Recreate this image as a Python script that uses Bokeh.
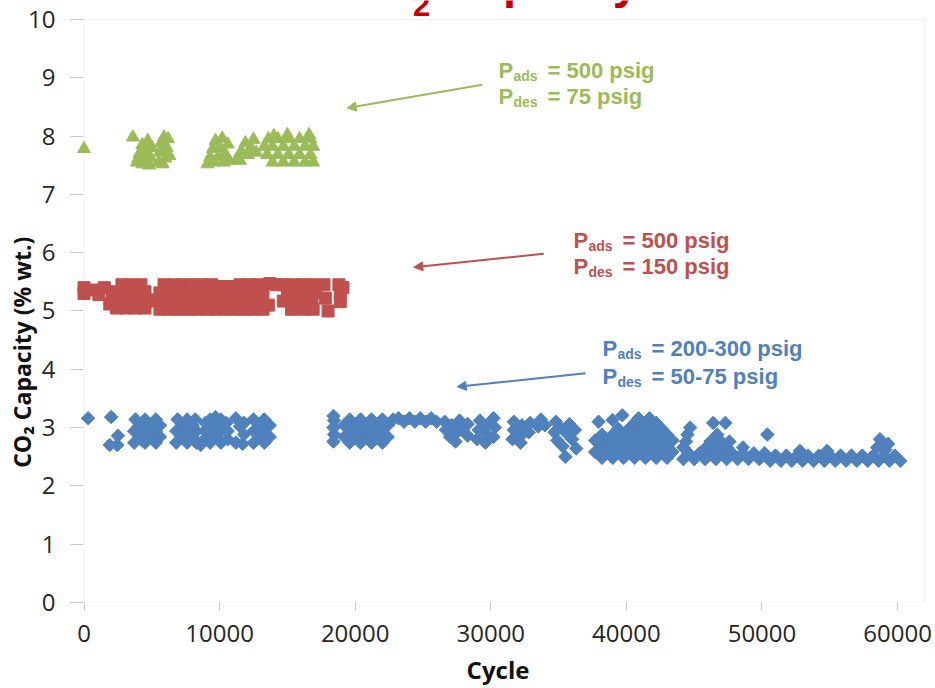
import numpy as np
from bokeh.plotting import figure
from bokeh.models import (ColumnDataSource, Range1d, FixedTicker, Label, Arrow, NormalHead,
                          BoxAnnotation)
from bokeh.embed import file_html
from bokeh.resources import INLINE

# ---------------- data ----------------
x_ticks = [0, 10000, 20000, 30000, 40000, 50000, 60000]
y_ticks = [0, 1, 2, 3, 4, 5, 6, 7, 8, 9, 10]

# Pads = 200-300 psig, Pdes = 50-75 psig (blue diamonds)
blue_x = [300, 2000, 1900, 2450, 2500,
          3700, 4500, 5300, 4100, 4900, 5600, 3700, 4500, 5300, 4100, 4900, 5600,
          3800, 4500, 5300, 4300, 5000,
          6800, 7600, 8300, 7200, 8000, 6800, 7600, 8300, 7200, 8000, 6900, 7600, 8200, 8600,
          9300, 10100, 8900, 10600, 9700, 8900, 9300, 10100, 10600, 9700, 8950, 10500,
          9300, 10100, 9700,
          11200, 11500, 11200, 11700, 11800, 11800,
          12500, 13300, 12900, 13700, 12500, 13300, 12900, 13700, 12500, 13300,
          18400, 18450, 18400, 18450, 18400,
          19600, 20400, 21200, 22000,
          19200, 20000, 20800, 21600, 22400,
          19600, 20400, 21200, 22000,
          19200, 20000, 20800, 21600, 22400,
          19600, 20400, 21200, 22000, 22800,
          23600, 24400, 25200, 26000, 23200, 24000, 24800, 25600,
          26600, 26700, 27000, 27100, 27400, 27500, 27700, 27900, 28300, 28300,
          29000, 29100, 29200, 29600, 29700, 29700, 30200, 30300, 30200,
          31600, 31700, 31700, 32200, 32300, 32300, 32800, 32900,
          33500, 33700, 34000,
          34700, 34800, 34900, 35100, 35300, 35500, 35600, 35800, 36000, 36200, 36300,
          37950, 38980, 39700,
          38200, 39000, 39800, 40600, 41400, 42200, 43000,
          37700, 38600, 39400, 40200, 41000, 41800, 42600, 43400,
          38200, 39000, 39800, 40600, 41400, 42200, 43000,
          37700, 38600, 39400, 40200, 41000, 41800, 42600, 43400,
          38200, 39000, 39800, 40600, 41400, 42200, 43000,
          39400, 40200, 41000, 41800, 42600,
          40600, 41400, 42200, 40900, 41700,
          44200, 45000, 45800, 46600, 47400, 48200, 49000, 49800,
          44600, 45400, 46200, 47000, 47800, 48600, 49400, 50200,
          44200, 45900, 46600, 47400, 48600,
          44400, 46200, 47000, 47600,
          44500, 46700, 44700, 46400, 47300, 50400,
          50600, 51400, 52200, 53000, 53800, 54600, 55400, 56200, 57000, 57800, 58600, 59400, 60200,
          51000, 51800, 52600, 53400, 54200, 55000, 55800, 56600, 57400, 58200, 59000, 59800,
          52800, 54800, 58500, 58700, 59300, 59100]
blue_y = [3.16, 3.18, 2.70, 2.70, 2.86,
          2.74, 2.74, 2.74, 2.84, 2.84, 2.84, 2.94, 2.94, 2.94, 3.04, 3.04, 3.04,
          3.14, 3.14, 3.14, 2.78, 3.00,
          2.74, 2.74, 2.74, 2.84, 2.84, 2.94, 2.94, 2.94, 3.04, 3.04, 3.14, 3.14, 3.14, 2.70,
          2.74, 2.74, 2.80, 2.80, 2.84, 2.94, 2.94, 2.94, 2.94, 3.04, 3.08, 3.08,
          3.14, 3.14, 3.18,
          3.16, 3.02, 2.74, 2.72, 2.88, 3.08,
          2.74, 2.74, 2.84, 2.84, 2.94, 2.94, 3.04, 3.04, 3.14, 3.14,
          2.76, 2.88, 3.00, 3.12, 3.20,
          2.74, 2.74, 2.74, 2.74,
          2.84, 2.84, 2.84, 2.84, 2.84,
          2.94, 2.94, 2.94, 2.94,
          3.04, 3.04, 3.04, 3.04, 3.04,
          3.14, 3.14, 3.14, 3.14, 3.14,
          3.10, 3.10, 3.10, 3.10, 3.16, 3.16, 3.16, 3.16,
          3.10, 2.96, 2.84, 3.04, 2.76, 2.92, 3.12, 2.98, 3.06, 2.86,
          2.80, 2.96, 3.12, 2.74, 2.88, 3.04, 2.84, 3.00, 3.16,
          2.80, 2.96, 3.10, 2.74, 2.88, 3.04, 2.92, 3.08,
          3.02, 3.14, 3.04,
          2.92, 3.10, 2.78, 3.00, 2.68, 2.50, 2.90, 3.06, 2.80, 2.96, 2.64,
          3.10, 3.13, 3.21,
          2.48, 2.48, 2.48, 2.48, 2.48, 2.48, 2.48,
          2.58, 2.58, 2.58, 2.58, 2.58, 2.58, 2.58, 2.58,
          2.68, 2.68, 2.68, 2.68, 2.68, 2.68, 2.68,
          2.78, 2.78, 2.78, 2.78, 2.78, 2.78, 2.78, 2.78,
          2.88, 2.88, 2.88, 2.88, 2.88, 2.88, 2.88,
          2.98, 2.98, 2.98, 2.98, 2.98,
          3.08, 3.08, 3.08, 3.16, 3.16,
          2.46, 2.46, 2.46, 2.46, 2.46, 2.46, 2.46, 2.46,
          2.56, 2.56, 2.56, 2.56, 2.56, 2.56, 2.56, 2.56,
          2.66, 2.66, 2.66, 2.66, 2.66,
          2.76, 2.76, 2.76, 2.76,
          2.88, 2.88, 3.00, 3.08, 3.08, 2.88,
          2.43, 2.43, 2.43, 2.43, 2.43, 2.43, 2.43, 2.43, 2.43, 2.43, 2.43, 2.43, 2.43,
          2.52, 2.52, 2.52, 2.52, 2.52, 2.52, 2.52, 2.52, 2.52, 2.52, 2.52, 2.52,
          2.60, 2.60, 2.66, 2.80, 2.72, 2.62]

# Pads = 500 psig, Pdes = 150 psig (red squares)
red_x = [0, 0, 600, 1100, 1500, 1900,
         2400, 3100, 3800, 4500,
         2100, 2800, 3500, 4200, 4900,
         2400, 3100, 3800, 4500,
         2800, 3500, 4200,
         5600, 6300, 7000, 7700, 8400, 9100, 9700,
         5300, 5900, 6600, 7300, 8000, 8700, 9400,
         5600, 6300, 7000, 7700, 8400, 9100, 9700,
         5900, 6600, 7300, 8000, 8700, 9400,
         10400, 11100, 11800, 12500, 13200,
         10100, 10800, 11500, 12200, 12900,
         10400, 11100, 11800, 12500, 13200,
         10100, 10800, 11500, 12200, 12900,
         13700, 14200, 13600,
         14700, 15400, 16100, 16800,
         15000, 15700, 16400, 17100,
         14700, 15400, 16100, 16800,
         15300, 16200, 16900,
         17700, 17800, 18000,
         18800, 18900, 18900, 19100]
red_y = [5.40, 5.30, 5.36, 5.28, 5.40, 5.12,
         5.05, 5.05, 5.05, 5.05,
         5.19, 5.19, 5.19, 5.19, 5.19,
         5.33, 5.33, 5.33, 5.33,
         5.45, 5.45, 5.45,
         5.03, 5.03, 5.03, 5.03, 5.03, 5.03, 5.03,
         5.17, 5.17, 5.17, 5.17, 5.17, 5.17, 5.17,
         5.31, 5.31, 5.31, 5.31, 5.31, 5.31, 5.31,
         5.45, 5.45, 5.45, 5.45, 5.45, 5.45,
         5.03, 5.03, 5.03, 5.03, 5.03,
         5.17, 5.17, 5.17, 5.17, 5.17,
         5.31, 5.31, 5.31, 5.31, 5.31,
         5.42, 5.42, 5.45, 5.45, 5.45,
         5.47, 5.45, 5.10,
         5.45, 5.45, 5.45, 5.45,
         5.31, 5.31, 5.31, 5.31,
         5.17, 5.17, 5.17, 5.17,
         5.03, 5.03, 5.03,
         5.45, 5.22, 5.00,
         5.45, 5.30, 5.16, 5.40]

# Pads = 500 psig, Pdes = 75 psig (green triangles)
green_x = [0, 3600,
           3900, 4100, 4300, 4500, 4600, 4700, 4900, 5000, 4300, 4800, 4000,
           5500, 5600, 5700, 5900, 6000, 6100, 6200, 5800, 6300,
           9100, 9300, 9500, 9700, 9900, 10000, 10200, 10400, 10600, 10700, 10300, 9600,
           11300, 11600, 11900, 12100, 12300, 12500, 12700, 11500,
           13900, 14700, 15500, 16300, 16900,
           13500, 14300, 15100, 15900, 16700,
           13300, 13900, 14700, 15500, 16300, 16900,
           13600, 14300, 15100, 15900, 16700,
           14000, 15000, 16600]
green_y = [7.78, 7.98,
           7.55, 7.70, 7.85, 7.58, 7.75, 7.92, 7.62, 7.80, 7.52, 7.50, 7.62,
           7.55, 7.72, 7.88, 7.98, 7.62, 7.80, 7.95, 7.52, 7.66,
           7.52, 7.64, 7.78, 7.92, 7.64, 7.80, 7.96, 7.70, 7.86, 7.58, 7.55, 7.55,
           7.62, 7.74, 7.88, 7.68, 7.80, 7.94, 7.72, 7.58,
           7.55, 7.55, 7.55, 7.55, 7.55,
           7.68, 7.68, 7.68, 7.68, 7.68,
           7.82, 7.82, 7.82, 7.82, 7.82, 7.82,
           7.95, 7.95, 7.95, 7.95, 7.95,
           8.00, 8.02, 8.02]

# annotation arrows (data coordinates: start -> end)
green_arrow = (29370, 8.88, 19410, 8.48)
red_arrow = (33910, 5.98, 24320, 5.75)
blue_arrow = (36990, 3.93, 27520, 3.70)

BLUE = "#4F81BD"
RED = "#C0504D"
GREEN = "#9BBB59"
GRID = "#C8C8C8"

p = figure(width=935, height=688, output_backend="svg", toolbar_location=None,
           x_range=Range1d(-996, 62061), y_range=Range1d(0, 10.325),
           min_border_left=70, min_border_right=10, min_border_top=0, min_border_bottom=85)
p.xgrid.visible = False
p.ygrid.visible = False
p.outline_line_color = None
p.background_fill_color = "white"
p.border_fill_color = "white"

# plot-area border (axis line at x=0, top, right, bottom)
p.add_layout(BoxAnnotation(left=0, right=62000, bottom=0, top=10, fill_color=None,
                           line_color=GRID, line_width=1, level="underlay"))

src_b = ColumnDataSource(dict(x=blue_x, y=blue_y))
src_r = ColumnDataSource(dict(x=red_x, y=red_y))
src_g = ColumnDataSource(dict(x=green_x, y=green_y))

p.scatter("x", "y", source=src_b, marker="square", angle=np.pi / 4, size=9.5,
          fill_color=BLUE, line_color=BLUE)
p.scatter("x", "y", source=src_r, marker="square", size=12,
          fill_color=RED, line_color=RED)
p.scatter("x", "y", source=src_g, marker="triangle", size=13,
          fill_color=GREEN, line_color=GREEN)

# axes
TICK_FONT = "Open Sans"
p.xaxis.ticker = FixedTicker(ticks=x_ticks)
p.yaxis.ticker = FixedTicker(ticks=y_ticks)
for ax in (p.xaxis, p.yaxis):
    ax.minor_tick_line_color = None
    ax.major_tick_line_color = GRID
    ax.major_label_text_font = TICK_FONT
    ax.major_label_text_font_size = "24px"
    ax.major_label_text_color = "#262626"
    ax.axis_label_text_font = TICK_FONT
    ax.axis_label_text_font_style = "bold"
    ax.axis_label_text_color = "#111111"
p.xaxis.axis_line_color = None
p.xaxis.major_tick_in = 0
p.xaxis.major_tick_out = 8
p.xaxis.major_label_standoff = 14
p.xaxis.axis_label = "Cycle"
p.xaxis.axis_label_text_font_size = "24px"
p.xaxis.axis_label_standoff = 8
p.yaxis.axis_line_color = None
p.yaxis.major_tick_in = 13
p.yaxis.major_tick_out = 0
p.yaxis.major_label_standoff = 15
p.yaxis.axis_label = "CO\u2082 Capacity (% wt.)" + "\u00a0" * 17
p.yaxis.axis_label_text_font_size = "23px"
p.yaxis.axis_label_standoff = -13

# cropped slide title at the top
TF = "Liberation Sans"
TITLE_RED = "#C00000"
p.add_layout(Label(x=272, y=621, x_units="screen", y_units="screen", text="CO",
                   text_font=TF, text_font_style="bold", text_font_size="47px",
                   text_color=TITLE_RED, text_baseline="alphabetic"))
p.add_layout(Label(x=342.5, y=598, x_units="screen", y_units="screen", text="2",
                   text_font=TF, text_font_style="bold", text_font_size="31px",
                   text_color=TITLE_RED, text_baseline="alphabetic"))
p.add_layout(Label(x=372.5, y=621, x_units="screen", y_units="screen", text="Capacity",
                   text_font=TF, text_font_style="bold", text_font_size="47px",
                   text_color=TITLE_RED, text_baseline="alphabetic"))

# annotations with subscripts
def ann(x, y, sub, rest, color):
    for txt, dx, dy, fs in (("P", 0, 0, "22px"), (sub, 15, -5, "14px"), (rest, 49, 0, "22px")):
        p.add_layout(Label(x=x + dx, y=y + dy, x_units="screen", y_units="screen", text=txt,
                           text_font=TF, text_font_style="bold", text_font_size=fs,
                           text_color=color, text_baseline="alphabetic"))

ann(428, 532, "ads", "= 500 psig", GREEN)
ann(428, 506, "des", "= 75 psig", GREEN)
ann(503, 362, "ads", "= 500 psig", RED)
ann(503, 336, "des", "= 150 psig", RED)
ann(532, 254, "ads", "= 200-300 psig", BLUE)
ann(532, 226, "des", "= 50-75 psig", BLUE)

for (xs, ys, xe, ye), c in ((green_arrow, GREEN), (red_arrow, RED), (blue_arrow, BLUE)):
    p.add_layout(Arrow(end=NormalHead(size=9, fill_color=c, line_color=c),
                       x_start=xs, y_start=ys, x_end=xe, y_end=ye,
                       line_color=c, line_width=2))

open("out.html", "w").write(file_html(p, INLINE))
